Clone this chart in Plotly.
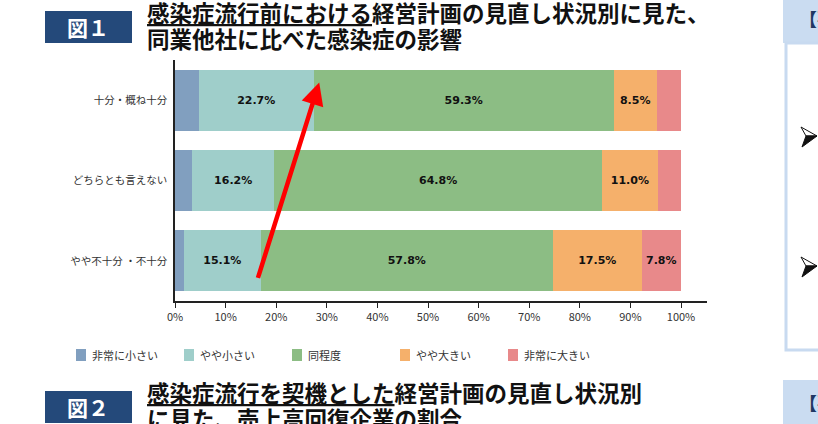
import plotly.graph_objects as go

# 図1: 感染症流行前における経営計画の見直し状況別に見た、同業他社に比べた感染症の影響
categories = ["十分・概ね十分", "どちらとも言えない", "やや不十分 ・不十分"]
series_names = ["非常に小さい", "やや小さい", "同程度", "やや大きい", "非常に大きい"]
very_small = [4.7, 3.4, 1.8]
small = [22.7, 16.2, 15.1]
same = [59.3, 64.8, 57.8]
large = [8.5, 11.0, 17.5]
very_large = [4.8, 4.6, 7.8]
series_values = [very_small, small, same, large, very_large]
colors = ["#819FBF", "#9FCECA", "#8CBD84", "#F5B06B", "#E8898A"]
x_ticks = [0, 10, 20, 30, 40, 50, 60, 70, 80, 90, 100]

W, H = 818, 424
L, R, T, B = 175, 111, 60, 123
PW, PH = W - L - R, H - T - B
JP = "Noto Sans CJK JP"
NAVY = "#24497A"


def paper(x, y):
    """pixel position -> paper coords"""
    return (x - L) / PW, (H - B - y) / PH


def paper_path(points):
    pts = [paper(x, y) for x, y in points]
    return "M" + " L".join(f"{x:.5f},{y:.5f}" for x, y in pts) + " Z"


fig = go.Figure()
for name, vals, col in zip(series_names, series_values, colors):
    fig.add_trace(go.Bar(
        name=name, y=categories, x=vals, orientation="h",
        marker=dict(color=col, line=dict(width=0)),
        text=[f"{v:.1f}%" if v >= 7 else "" for v in vals],
        textposition="inside", insidetextanchor="middle",
        textfont=dict(family="Verdana, DejaVu Sans", size=11, color="#111111", weight="bold"),
        textangle=0, showlegend=False,
    ))

fig.update_layout(
    width=W, height=H, barmode="stack", bargap=0.244,
    margin=dict(l=L, r=R, t=T, b=B),
    paper_bgcolor="white", plot_bgcolor="white",
    font=dict(family=JP, size=11, color="#333333"),
    xaxis=dict(range=[0, 100 * (PW / 506)], tickvals=x_ticks,
               ticktext=[f"{t}%" for t in x_ticks], showgrid=False, zeroline=False,
               showline=True, linecolor="#222222", linewidth=1.5,
               ticks="outside", ticklen=5, tickcolor="#222222", tickwidth=1.2,
               tickfont=dict(family=JP, size=11, color="#333333")),
    yaxis=dict(categoryorder="array", categoryarray=categories,
               range=[2.5, -0.5], showgrid=False, zeroline=False,
               showline=True, linecolor="#222222", linewidth=1.5,
               ticks="", ticklabelstandoff=4,
               tickfont=dict(family=JP, size=10.5, color="#333333")),
)

# hand-made legend
legend_x = [76, 184, 292, 400, 508]
for name, col, lx in zip(series_names, colors, legend_x):
    x0, y0 = paper(lx, 349)
    x1, y1 = paper(lx + 10, 361)
    fig.add_shape(type="rect", xref="paper", yref="paper", x0=x0, x1=x1, y0=y0, y1=y1,
                  fillcolor=col, line=dict(width=0))
    tx, ty = paper(lx + 14, 355)
    fig.add_annotation(xref="paper", yref="paper", x=tx, y=ty, text=name, showarrow=False,
                       xanchor="left", yanchor="middle", font=dict(family=JP, size=11, color="#333333"))

# red arrow
fig.add_annotation(x=28.5, y=-0.22, ax=16.3, ay=2.23, xref="x", yref="y", axref="x", ayref="y",
                   text="", showarrow=True, arrowhead=2, arrowsize=1, arrowwidth=4.5,
                   arrowcolor="#FF0000", standoff=0)

# figure headings
def heading(label, y_top, line1, line2):
    x0, y0 = paper(45, y_top)
    x1, y1 = paper(132, y_top + 32)
    fig.add_shape(type="rect", xref="paper", yref="paper", x0=x0, x1=x1, y0=y0, y1=y1,
                  fillcolor=NAVY, line=dict(width=0))
    cx, cy = paper(88, y_top + 16)
    fig.add_annotation(xref="paper", yref="paper", x=cx, y=cy, text=f"<b>{label}</b>",
                       showarrow=False, xanchor="center", yanchor="middle",
                       font=dict(family=JP, size=21, color="white"))
    for i, line in enumerate([line1, line2]):
        lx, ly = paper(145, y_top + 1 + i * 26)
        fig.add_annotation(xref="paper", yref="paper", x=lx, y=ly, text=f"<b>{line}</b>",
                           showarrow=False, xanchor="left", yanchor="middle",
                           font=dict(family=JP, size=22.5, color="#111111"))


heading("図１", 11, "<u>感染症流行前における</u>経営計画の見直し状況別に見た、", "同業他社に比べた感染症の影響")
heading("図２", 391, "<u>感染症流行を契機とした</u>経営計画の見直し状況別", "に見た、売上高回復企業の割合")

# right-hand panel (cut off)
for y_top, y_bot in [(0, 43), (380, 430)]:
    x0, y0 = paper(783, y_top)
    x1, y1 = paper(830, y_bot)
    fig.add_shape(type="rect", xref="paper", yref="paper", x0=x0, x1=x1, y0=y0, y1=y1,
                  fillcolor="#CADCF1", line=dict(width=0))
    hx, hy = paper(797, (y_top + min(y_bot, 424)) / 2 + (0 if y_top else -3))
    fig.add_annotation(xref="paper", yref="paper", x=hx, y=hy, text="<b>【要</b>",
                       showarrow=False, xanchor="left", yanchor="middle",
                       font=dict(family=JP, size=18, color="#1F3864"))
x0, y0 = paper(786, 43)
x1, y1 = paper(840, 350)
fig.add_shape(type="rect", xref="paper", yref="paper", x0=x0, x1=x1, y0=y0, y1=y1,
              fillcolor="rgba(0,0,0,0)", line=dict(color="#C8DAF0", width=3))

# arrowhead bullets (➢)
for cy in [137, 267]:
    cx = 809
    top, tip, bot, notch = (cx - 8, cy - 10), (cx + 8, cy - 1), (cx - 7, cy + 10), (cx - 3, cy - 1)
    fig.add_shape(type="path", xref="paper", yref="paper", path=paper_path([top, tip, notch]),
                  fillcolor="white", line=dict(color="#111111", width=1))
    fig.add_shape(type="path", xref="paper", yref="paper", path=paper_path([notch, tip, bot]),
                  fillcolor="#111111", line=dict(color="#111111", width=1))

fig.write_html("out.html", config={"displayModeBar": False},
               post_script="document.body.style.margin='0';")
